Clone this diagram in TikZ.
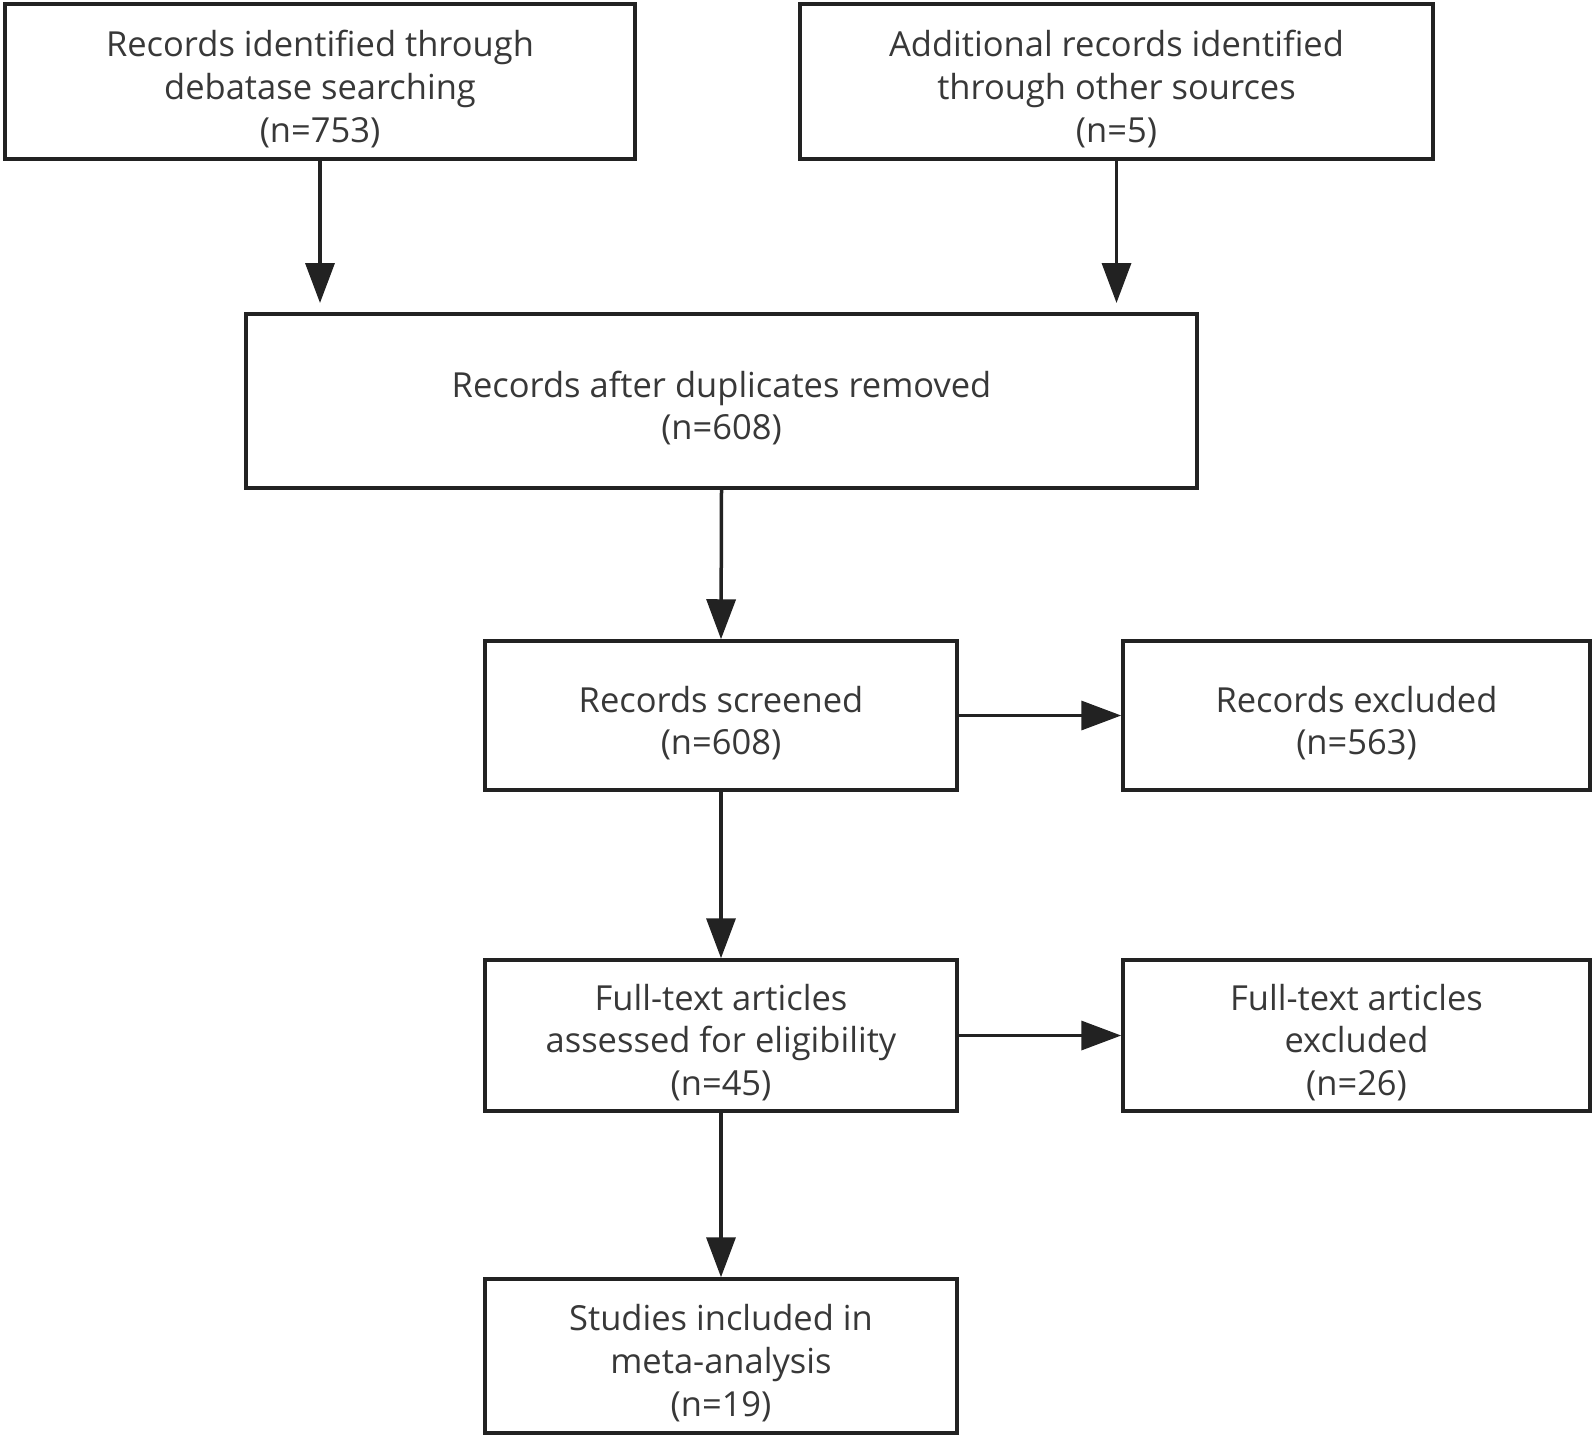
\documentclass[tikz,border=0pt]{standalone}
\usepackage{fontspec}
\setmainfont{Open Sans}
\usetikzlibrary{arrows.meta}
\definecolor{ln}{HTML}{222222}
\definecolor{tx}{HTML}{383838}
\begin{document}
\begin{tikzpicture}[x=1pt,y=-1pt,
  box/.style={draw=ln,line width=3.5pt,rectangle,inner sep=0pt},
  txt/.style={inner sep=0pt,align=center,text=tx,font=\fontsize{34.5}{42.7}\selectfont},
  arr/.style={draw=ln,line width=3.5pt,-{Triangle[length=40pt,width=29pt]}}]
\useasboundingbox (0,0) rectangle (1594,1438);
\node[box,minimum width=630pt,minimum height=155pt] (b1) at (320,81.5) {};
\node[box,minimum width=633pt,minimum height=155pt] (b2) at (1116.5,81.5) {};
\node[box,minimum width=951pt,minimum height=174pt] (b3) at (721.5,401) {};
\node[box,minimum width=472pt,minimum height=149pt] (b4) at (721,715.5) {};
\node[box,minimum width=467pt,minimum height=149pt] (b5) at (1356.5,715.5) {};
\node[box,minimum width=472pt,minimum height=151pt] (b6) at (721,1035.5) {};
\node[box,minimum width=467pt,minimum height=151pt] (b7) at (1356.5,1035.5) {};
\node[box,minimum width=472pt,minimum height=154pt] (b8) at (721,1356) {};
\node[txt] (t1) at (320,89) {Records identified through\\debatase searching\\(n=753)};
\node[txt] (t2) at (1116.5,89) {Additional records identified\\through other sources\\(n=5)};
\node[txt] (t3) at (721.5,408) {Records after duplicates removed\\(n=608)};
\node[txt] (t4) at (721,723) {Records screened\\(n=608)};
\node[txt] (t5) at (1356.5,723) {Records excluded\\(n=563)};
\node[txt] (t6) at (721,1042.5) {Full-text articles\\assessed for eligibility\\(n=45)};
\node[txt] (t7) at (1356.5,1042.5) {Full-text articles\\excluded\\(n=26)};
\node[txt] (t8) at (721,1363) {Studies included in\\meta-analysis\\(n=19)};
\coordinate (e1) at (320,303);
\coordinate (e2) at (1116.5,303);
\draw[arr] (b1.south) -- (e1);
\draw[arr] (b2.south) -- (e2);
\draw[arr] (b3.south) -- (b4.north);
\draw[arr] (b4.east) -- (b5.west);
\draw[arr] (b4.south) -- (b6.north);
\draw[arr] (b6.east) -- (b7.west);
\draw[arr] (b6.south) -- (b8.north);
\end{tikzpicture}
\end{document}
